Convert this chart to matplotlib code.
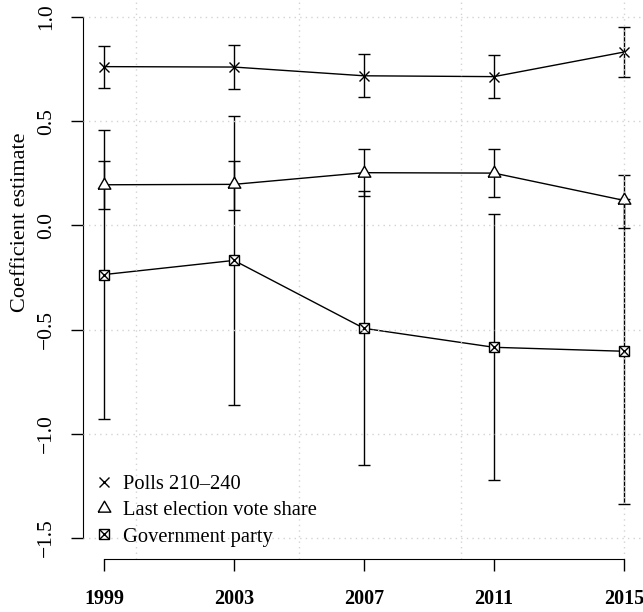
import matplotlib
matplotlib.use("Agg")
import matplotlib.pyplot as plt
from matplotlib.legend_handler import HandlerTuple
from matplotlib.lines import Line2D
import numpy as np

plt.rcParams["font.family"] = ["Liberation Serif", "DejaVu Serif"]

years = [1999, 2003, 2007, 2011, 2015]
x_ticks = [1999, 2003, 2007, 2011, 2015]
y_ticks = [-1.5, -1.0, -0.5, 0.0, 0.5, 1.0]
y_tick_labels = ["\u22121.5", "\u22121.0", "\u22120.5", "0.0", "0.5", "1.0"]
grid_x = [2000, 2005, 2010, 2015]

polls_est = [0.762, 0.760, 0.718, 0.714, 0.832]
polls_lo = [0.660, 0.655, 0.615, 0.611, 0.713]
polls_hi = [0.862, 0.866, 0.824, 0.820, 0.950]

vote_est = [0.195, 0.197, 0.253, 0.251, 0.120]
vote_lo = [0.080, 0.076, 0.141, 0.136, -0.011]
vote_hi = [0.307, 0.308, 0.367, 0.365, 0.240]

gov_est = [-0.236, -0.168, -0.494, -0.585, -0.604]
gov_lo = [-0.930, -0.860, -1.150, -1.221, -1.335]
gov_hi = [0.457, 0.524, 0.165, 0.056, 0.127]

labels = ["Polls 210\u2013240", "Last election vote share", "Government party"]

TRI = [(-0.5, -0.289), (0.5, -0.289), (0.0, 0.577), (-0.5, -0.289)]


def draw_series(ax, est, lo, hi, markers):
    est = np.asarray(est)
    yerr = np.vstack([est - np.asarray(lo), np.asarray(hi) - est])
    ax.errorbar(years, est, yerr=yerr, fmt="none", ecolor="black",
                elinewidth=1.0, capsize=4.6, capthick=1.0, zorder=2)
    ax.plot(years, est, color="black", lw=1.0, zorder=2)
    for m, ms in markers:
        ax.plot(years, est, linestyle="none", marker=m, markersize=ms,
                mfc="white" if m != "x" else "black", mec="black", mew=1.0, zorder=3)


fig = plt.figure(figsize=(6.43, 6.12), dpi=100)
ax = fig.add_axes([0.12939, 0.08693, 0.87341, 0.91928])

draw_series(ax, polls_est, polls_lo, polls_hi, [("x", 7.8)])
draw_series(ax, vote_est, vote_lo, vote_hi, [(TRI, 10.5)])
draw_series(ax, gov_est, gov_lo, gov_hi, [("s", 7.6), ("x", 7.6)])

ax.set_xlim(1998.36, 2015.64)
ax.set_ylim(-1.6, 1.1)

# dotted grid drawn over the data, as in the original
for gx in grid_x:
    ax.axvline(gx, color="#d3d3d3", lw=1.0, dashes=(1, 3), zorder=5)
for gy in y_ticks:
    ax.axhline(gy, color="#d3d3d3", lw=1.0, dashes=(1, 3), zorder=5)

for side in ["top", "right"]:
    ax.spines[side].set_visible(False)
ax.spines["left"].set_bounds(-1.5, 1.0)
ax.spines["bottom"].set_bounds(1999, 2015)
ax.set_xticks(x_ticks)
ax.set_xticklabels([str(y) for y in x_ticks], fontsize=14.5, fontweight="bold")
ax.set_yticks(y_ticks)
ax.set_yticklabels(y_tick_labels, fontsize=15.5)
for lab in ax.get_yticklabels():
    lab.set_rotation(90)
    lab.set_va("center")
ax.tick_params(axis="x", length=8.5, width=1.0, pad=13.5)
ax.tick_params(axis="y", length=8.5, width=1.0, pad=11)

fig.text(21 / 643, 1 - 222 / 612, "Coefficient estimate", rotation=90,
         ha="center", va="center", fontsize=16)

h_polls = Line2D([], [], linestyle="none", marker="x", markersize=7.8, color="black", mew=1.0)
h_vote = Line2D([], [], linestyle="none", marker=TRI, markersize=10.5, mfc="white", mec="black", mew=1.0)
h_gov_s = Line2D([], [], linestyle="none", marker="s", markersize=7.6, mfc="white", mec="black", mew=1.0)
h_gov_x = Line2D([], [], linestyle="none", marker="x", markersize=7.6, color="black", mew=1.0)
ax.legend([h_polls, h_vote, (h_gov_s, h_gov_x)], labels,
          handler_map={tuple: HandlerTuple(ndivide=1)},
          loc="lower left", bbox_to_anchor=(-0.004, -0.004), frameon=False,
          fontsize=14.8, handlelength=0.8, handletextpad=0.55,
          labelspacing=0.33, borderaxespad=0.3)

fig.savefig("out.png", dpi=100)
